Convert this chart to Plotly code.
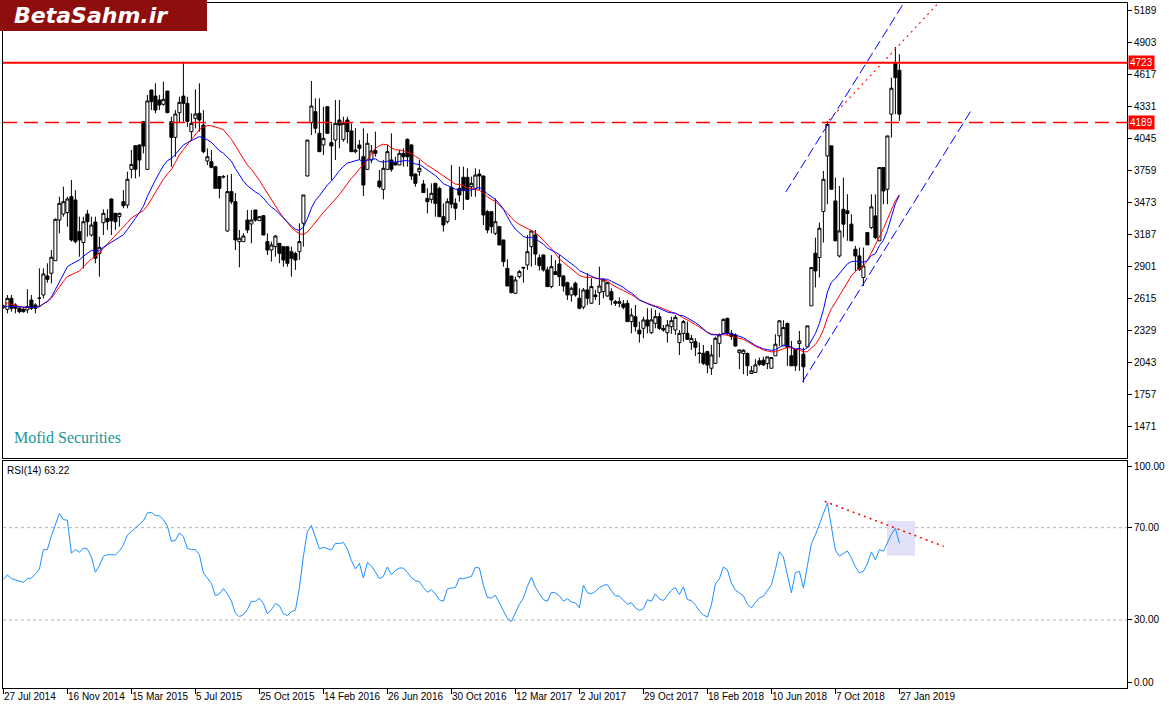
import plotly.graph_objects as go
import pandas as pd

# ---------------- data (weekly bars) ----------------
opens = [
    2545, 2520, 2618, 2559, 2529, 2520, 2514, 2603, 2559, 2618, 2648, 2818, 2842, 2955, 3318,
    3372, 3384, 3527, 3497, 3214, 3117, 3372, 3184, 3300, 3020, 3294, 3333, 3506, 3378, 3348,
    3482, 3452, 3771, 3982, 3988, 4197, 3771, 4480, 4426, 4391, 4352, 4471, 4197, 4057, 4277,
    4426, 4361, 4108, 4227, 4272, 4167, 3846, 3840, 3795, 3706, 3706, 3220, 3572, 3482, 3125,
    3125, 3318, 3283, 3408, 3313, 3357, 3125, 3050, 3080, 3110, 3080, 3080, 3035, 3020, 3035,
    3289, 3712, 4188, 4287, 4093, 3989, 4331, 4010, 4033, 4212, 4039, 4212, 4114, 3929, 3989,
    3884, 3771, 3855, 3938, 3667, 3592, 3771, 3855, 3831, 3810, 3914, 4039, 3989, 3729, 3750,
    3640, 3512, 3503, 3646, 3601, 3348, 3303, 3610, 3467, 3601, 3700, 3700, 3616, 3601, 3729,
    3712, 3393, 3393, 3199, 3259, 3140, 2886, 2818, 2663, 2812, 2895, 2916, 3080, 3184, 2981,
    3005, 2872, 2723, 2857, 2925, 2818, 2758, 2648, 2752, 2618, 2540, 2693, 2574, 2648, 2669,
    2678, 2639, 2678, 2588, 2588, 2568, 2574, 2410, 2454, 2335, 2350, 2425, 2311, 2395, 2454,
    2350, 2311, 2365, 2335, 2222, 2305, 2305, 2222, 2231, 2130, 2127, 2142, 1993, 2037, 2216,
    2305, 2439, 2305, 2291, 2132, 2125, 2125, 1946, 1955, 2059, 2065, 2035, 1993, 2104, 2283,
    2193, 2393, 2104, 2163, 2214, 2119, 2184, 2551, 3021, 2983, 3394, 3891, 3981, 3489, 2997,
    3414, 3400, 3281, 3057, 2997, 2804, 3206, 3251, 3355, 3132, 3787, 3593, 4264, 4716, 4657,
]
highs = [
    2560, 2648, 2648, 2574, 2544, 2540, 2699, 2648, 2574, 2886, 2886, 2931, 3050, 3333, 3527,
    3616, 3527, 3676, 3586, 3348, 3348, 3408, 3348, 3348, 3169, 3414, 3414, 3512, 3384, 3384,
    3586, 3750, 3944, 3988, 3997, 4197, 4436, 4480, 4540, 4436, 4555, 4471, 4242, 4301, 4420,
    4733, 4420, 4272, 4486, 4540, 4301, 3959, 3944, 3795, 3706, 3720, 3720, 3730, 3560, 3229,
    3200, 3408, 3408, 3408, 3348, 3363, 3199, 3125, 3184, 3110, 3080, 3080, 3080, 3035, 3288,
    3542, 4033, 4561, 4406, 4406, 4331, 4331, 4182, 4391, 4391, 4242, 4242, 4182, 4138, 4033,
    4138, 4093, 3989, 4108, 3765, 3854, 3989, 4093, 3884, 3944, 3959, 4048, 3997, 3735, 3855,
    3676, 3601, 3646, 3646, 3616, 3467, 3512, 3810, 3512, 3795, 3795, 3780, 3706, 3780, 3771,
    3712, 3408, 3393, 3512, 3259, 3140, 2967, 2818, 2812, 2872, 2895, 3184, 3229, 3229, 3011,
    3011, 2901, 3005, 2960, 3005, 2827, 2767, 2723, 2767, 2708, 2710, 2842, 2797, 2693, 2901,
    2797, 2767, 2708, 2603, 2627, 2603, 2603, 2529, 2559, 2410, 2454, 2529, 2529, 2514, 2490,
    2380, 2424, 2454, 2469, 2335, 2424, 2410, 2290, 2261, 2222, 2201, 2150, 2201, 2276, 2305,
    2439, 2445, 2335, 2305, 2157, 2163, 2134, 2014, 2074, 2089, 2095, 2095, 2089, 2297, 2423,
    2423, 2402, 2238, 2163, 2327, 2178, 2372, 2893, 3161, 3295, 3757, 4204, 3981, 3697, 3623,
    3697, 3549, 3370, 3087, 3072, 3072, 3206, 3548, 3548, 3787, 3787, 4070, 4591, 4865, 4800,
]
lows = [
    2525, 2484, 2499, 2484, 2484, 2490, 2484, 2514, 2484, 2544, 2618, 2758, 2752, 2955, 3199,
    3348, 3258, 3125, 3110, 2990, 2886, 3169, 3169, 2931, 2812, 3184, 3229, 3184, 3229, 3259,
    3423, 3423, 3690, 3690, 3706, 3914, 3765, 4301, 4272, 4301, 4340, 4272, 3795, 3884, 4188,
    4197, 4150, 4033, 4137, 4108, 3914, 3810, 3780, 3601, 3512, 3690, 3214, 3460, 3050, 2896,
    3125, 3200, 3110, 3303, 3313, 3184, 3005, 2946, 2990, 2931, 2901, 2901, 2812, 2872, 2961,
    3080, 3706, 4078, 4093, 3929, 3899, 4093, 3676, 3855, 3959, 4018, 4004, 3929, 3914, 3855,
    3533, 3765, 3825, 3884, 3601, 3503, 3765, 3750, 3810, 3810, 3795, 3795, 3676, 3616, 3712,
    3563, 3378, 3467, 3348, 3348, 3214, 3288, 3423, 3318, 3482, 3408, 3497, 3527, 3527, 3586,
    3274, 3199, 3199, 3184, 3095, 2901, 2728, 2663, 2657, 2797, 2758, 2872, 2901, 2916, 2866,
    2857, 2723, 2708, 2827, 2728, 2678, 2603, 2588, 2633, 2520, 2520, 2559, 2568, 2603, 2559,
    2618, 2633, 2559, 2550, 2538, 2520, 2410, 2305, 2320, 2222, 2261, 2305, 2300, 2350, 2335,
    2320, 2222, 2300, 2291, 2112, 2231, 2246, 2157, 2103, 2037, 2022, 1948, 1933, 2031, 2091,
    2291, 2291, 2246, 2186, 1984, 1940, 1925, 1940, 1955, 2014, 2014, 1985, 1993, 2104, 2193,
    2193, 2014, 2014, 1970, 1970, 1866, 2184, 2551, 2715, 2804, 3117, 3459, 3593, 3132, 2983,
    3161, 3132, 3132, 2863, 2863, 2729, 3096, 3236, 3146, 3132, 3459, 3459, 4055, 4264, 4204,
]
closes = [
    2540, 2618, 2529, 2529, 2499, 2499, 2544, 2529, 2529, 2620, 2836, 2788, 2985, 3324, 3467,
    3482, 3506, 3140, 3125, 3140, 3303, 3303, 3273, 2976, 3074, 3378, 3303, 3312, 3303, 3378,
    3446, 3682, 3815, 3771, 3855, 3980, 4382, 4376, 4301, 4346, 4397, 4278, 4057, 4266, 4370,
    4361, 4200, 4182, 4266, 4212, 3929, 3884, 3789, 3601, 3601, 3704, 3572, 3482, 3140, 3155,
    3175, 3229, 3318, 3318, 3348, 3184, 3050, 3095, 3175, 3020, 2961, 2931, 2976, 2961, 3125,
    3542, 4033, 4337, 4138, 3929, 4048, 4093, 3980, 4182, 4167, 4182, 4108, 3929, 3944, 3959,
    3631, 4004, 3935, 3914, 3616, 3780, 3929, 3771, 3810, 3914, 3884, 3884, 3712, 3646, 3780,
    3563, 3482, 3557, 3467, 3348, 3274, 3482, 3461, 3423, 3542, 3581, 3503, 3646, 3720, 3712,
    3363, 3229, 3259, 3303, 3095, 2946, 2728, 2669, 2782, 2857, 2890, 3035, 3220, 3014, 2910,
    2872, 2723, 2901, 2832, 2812, 2728, 2648, 2708, 2648, 2529, 2693, 2618, 2723, 2633, 2728,
    2782, 2758, 2603, 2574, 2574, 2538, 2410, 2469, 2365, 2300, 2425, 2371, 2425, 2454, 2350,
    2335, 2380, 2418, 2448, 2305, 2410, 2252, 2260, 2180, 2125, 2037, 2022, 2112, 2261, 2291,
    2430, 2305, 2276, 2192, 2157, 2154, 2015, 1970, 2023, 2029, 2023, 2095, 2089, 2208, 2417,
    2357, 2178, 2015, 2015, 2238, 2006, 2372, 2893, 2863, 3245, 3682, 4174, 3593, 3132, 3221,
    3281, 3376, 3132, 2997, 2878, 2908, 3096, 3436, 3161, 3787, 3578, 4070, 4496, 4591, 4264,
]
rsi_values = [
    47.5,
    49.5, 47.9, 47.3, 46.7, 46.3, 47.9, 48.2, 49.9, 52.1, 60.5,
    60.5, 66.5, 71.7, 76.1, 73.5, 73.2, 59.0, 60.5, 59.3, 61.2,
    60.8, 57.3, 50.7, 53.5, 57.6, 58.3, 58.3, 58.2, 59.9, 62.5,
    66.8, 68.4, 69.6, 71.4, 73.0, 76.4, 76.6, 75.3, 75.1, 73.5,
    70.7, 64.1, 64.5, 67.7, 66.2, 61.0, 60.5, 60.5, 58.2, 50.4,
    48.2, 45.9, 40.5, 41.3, 43.6, 41.3, 38.2, 33.0, 31.4, 32.3,
    34.6, 38.0, 38.1, 39.4, 37.1, 32.6, 34.5, 37.1, 36.2, 32.7,
    31.9, 33.6, 34.2, 43.9, 57.6, 68.3, 71.0, 66.2, 60.8, 61.5,
    61.0, 60.3, 63.2, 63.1, 63.6, 60.8, 55.7, 52.1, 54.5, 48.2,
    55.0, 53.4, 50.8, 47.8, 48.9, 53.0, 49.6, 51.4, 52.5, 52.5,
    50.6, 48.3, 47.0, 46.6, 44.0, 42.0, 43.1, 41.3, 38.7, 38.1,
    43.4, 43.9, 44.0, 48.2, 47.8, 48.3, 48.9, 52.8, 52.5, 45.0,
    39.7, 39.5, 40.7, 37.4, 33.9, 30.7, 29.3, 33.3, 36.8, 39.5,
    44.6, 48.5, 44.2, 41.4, 38.8, 38.1, 42.0, 41.7, 40.5, 38.1,
    39.2, 37.8, 37.4, 35.2, 45.0, 41.8, 41.3, 42.4, 44.0, 45.0,
    45.3, 42.7, 40.5, 40.3, 38.7, 36.8, 37.5, 35.2, 34.1, 34.9,
    38.8, 38.1, 41.3, 39.1, 38.4, 40.7, 42.9, 44.0, 41.0, 44.4,
    38.8, 38.4, 36.5, 33.9, 32.2, 31.2, 36.5, 45.6, 47.8, 53.0,
    51.7, 46.0, 42.9, 41.7, 40.5, 36.8, 35.2, 37.6, 39.5, 40.3,
    42.6, 45.2, 51.8, 59.6, 57.3, 48.9, 41.8, 50.5, 51.1, 43.8,
    53.2, 63.1, 66.8, 71.7, 76.8, 80.8, 70.3, 60.2, 57.7, 59.0,
    59.9, 56.9, 53.0, 50.4, 51.1, 54.4, 59.5, 56.0, 60.5, 59.8,
    63.2, 67.1, 69.7, 63.22,
]

date_tick_bars = [0, 16, 32, 48, 64, 80, 96, 112, 128, 144, 160, 176, 192, 208, 224]
date_tick_labels = ["27 Jul 2014", "16 Nov 2014", "15 Mar 2015", "5 Jul 2015", "25 Oct 2015",
                    "14 Feb 2016", "26 Jun 2016", "30 Oct 2016", "12 Mar 2017", "2 Jul 2017",
                    "29 Oct 2017", "18 Feb 2018", "10 Jun 2018", "7 Oct 2018", "27 Jan 2019"]
price_ticks = [5189, 4903, 4617, 4331, 4045, 3759, 3473, 3187, 2901, 2615, 2329, 2043, 1757, 1471]
rsi_tick_vals = [96.4, 70, 30, 2.8]
rsi_tick_text = ["100.00", "70.00", "30.00", "0.00"]
rsi_levels = [70, 30]

level_solid = 4723
level_dashed = 4189

channel_upper_x = [195.6, 225.4]
channel_upper_y = [3569, 5275]
channel_lower_x = [199.8, 241.9]
channel_lower_y = [1873, 4295]
red_trend_x = [206.4, 234.2]
red_trend_y = [4212, 5275]
rsi_trend_x = [205.3, 235.1]
rsi_trend_y = [81.4, 61.9]
rsi_box_x = [220.9, 227.9]
rsi_box_y = [57.9, 72.9]

# ---------------- derived indicators ----------------
bars = list(range(len(closes)))
cs = pd.Series(closes, dtype=float)
ema20 = cs.ewm(span=20, adjust=False).mean()
sma20 = cs.rolling(20, min_periods=1).mean()

X_RANGE = [-0.1, 280.9]
FONT = "Liberation Sans"

fig = go.Figure()
fig.add_trace(go.Candlestick(
    x=bars, open=opens, high=highs, low=lows, close=closes,
    xaxis="x", yaxis="y", showlegend=False, hoverinfo="skip",
    whiskerwidth=0,
    increasing=dict(line=dict(color="black", width=1), fillcolor="white"),
    decreasing=dict(line=dict(color="black", width=1), fillcolor="black"),
))
fig.add_trace(go.Scatter(x=bars, y=sma20, mode="lines", line=dict(color="#ff0000", width=1),
                         xaxis="x", yaxis="y", showlegend=False, hoverinfo="skip"))
fig.add_trace(go.Scatter(x=bars, y=ema20, mode="lines", line=dict(color="#0000ff", width=1),
                         xaxis="x", yaxis="y", showlegend=False, hoverinfo="skip"))
fig.add_trace(go.Scatter(x=channel_upper_x, y=channel_upper_y, mode="lines",
                         line=dict(color="#0000ff", width=1, dash="10px,4px"),
                         xaxis="x", yaxis="y", showlegend=False, hoverinfo="skip"))
fig.add_trace(go.Scatter(x=channel_lower_x, y=channel_lower_y, mode="lines",
                         line=dict(color="#0000ff", width=1, dash="10px,4px"),
                         xaxis="x", yaxis="y", showlegend=False, hoverinfo="skip"))
fig.add_trace(go.Scatter(x=red_trend_x, y=red_trend_y, mode="lines",
                         line=dict(color="#ff0000", width=1.1, dash="2px,4px"),
                         xaxis="x", yaxis="y", showlegend=False, hoverinfo="skip"))

# RSI pane
fig.add_shape(type="rect", xref="x2", yref="y2", x0=rsi_box_x[0], x1=rsi_box_x[1],
              y0=rsi_box_y[0], y1=rsi_box_y[1], fillcolor="#e1e1f7", line=dict(width=0),
              layer="below")
for lv in rsi_levels:
    fig.add_shape(type="line", xref="x2 domain", yref="y2", x0=0, x1=1, y0=lv, y1=lv,
                  line=dict(color="#b4b4b4", width=1, dash="3px,3px"), layer="below")
fig.add_trace(go.Scatter(x=bars, y=rsi_values, mode="lines", line=dict(color="#1e90ff", width=1),
                         xaxis="x2", yaxis="y2", showlegend=False, hoverinfo="skip"))
fig.add_trace(go.Scatter(x=rsi_trend_x, y=rsi_trend_y, mode="lines",
                         line=dict(color="#ff0000", width=1.5, dash="2px,4px"),
                         xaxis="x2", yaxis="y2", showlegend=False, hoverinfo="skip"))

# horizontal levels
fig.add_shape(type="line", xref="x domain", yref="y", x0=0, x1=1, y0=level_solid, y1=level_solid,
              line=dict(color="#ff0000", width=2), layer="above")
fig.add_shape(type="line", xref="x domain", yref="y", x0=0, x1=1, y0=level_dashed, y1=level_dashed,
              line=dict(color="#ff0000", width=1.5, dash="14px,7px"), layer="above")

annotations = []
for lv in (level_solid, level_dashed):
    annotations.append(dict(x=1, xref="paper", y=lv, yref="y", xanchor="left", yanchor="middle",
                            xshift=1, text=str(lv), showarrow=False, bgcolor="#ff0000",
                            borderpad=1, font=dict(family=FONT, size=10, color="white")))
for b, lab in zip(date_tick_bars, date_tick_labels):
    annotations.append(dict(x=b, xref="x2", y=-0.013, yref="paper", xanchor="left",
                            yanchor="middle", xshift=-1, text=lab, showarrow=False,
                            font=dict(family=FONT, size=10, color="black")))
annotations.append(dict(x=0.008, xref="paper", y=0.365, yref="paper", xanchor="left",
                        yanchor="middle", text="Mofid Securities", showarrow=False,
                        font=dict(family="Liberation Serif", size=16, color="#1a9696")))
annotations.append(dict(x=0.0015, xref="paper", y=0.318, yref="paper", xanchor="left",
                        yanchor="middle", text="RSI(14) 63.22", showarrow=False,
                        font=dict(family=FONT, size=10, color="black")))
annotations.append(dict(x=0.008, xref="paper", y=0.982, yref="paper", xanchor="left",
                        yanchor="middle", text="<b><i>BetaSahm.ir</i></b>", showarrow=False,
                        font=dict(family="DejaVu Sans", size=22, color="white")))

# logo background
fig.add_shape(type="rect", xref="paper", yref="paper", x0=-0.003, x1=0.1815, y0=0.9591, y1=1.0044,
              fillcolor="#8e0e0e", line=dict(width=0), layer="above")

axis_common = dict(showline=True, mirror=True, linecolor="black", linewidth=1,
                   showgrid=False, zeroline=False)

fig.update_layout(
    width=1169, height=709,
    margin=dict(l=3, r=42, t=3, b=21),
    paper_bgcolor="white", plot_bgcolor="white",
    hovermode=False, showlegend=False,
    boxgap=0.15, boxgroupgap=0.1,
    xaxis=dict(domain=[0, 1], anchor="y", range=X_RANGE, showticklabels=False, ticks="",
               rangeslider=dict(visible=False), **axis_common),
    yaxis=dict(domain=[0.3358, 1], anchor="x", range=[1191, 5258], side="right",
               tickvals=price_ticks, ticktext=[str(v) for v in price_ticks],
               ticks="outside", ticklen=4, tickcolor="black",
               tickfont=dict(family=FONT, size=10, color="black"), **axis_common),
    xaxis2=dict(domain=[0, 1], anchor="y2", range=X_RANGE, tickvals=date_tick_bars,
                ticks="outside", ticklen=5, tickcolor="black", showticklabels=False,
                **axis_common),
    yaxis2=dict(domain=[0, 0.3314], anchor="x2", range=[0.5, 98.9], side="right",
                tickvals=rsi_tick_vals, ticktext=rsi_tick_text, ticks="outside", ticklen=4,
                tickcolor="black", tickfont=dict(family=FONT, size=10, color="black"),
                **axis_common),
    annotations=annotations,
)

fig.write_html(
    "out.html",
    config={"displayModeBar": False},
    post_script="document.body.style.margin='0px';document.body.style.overflow='hidden';",
)
